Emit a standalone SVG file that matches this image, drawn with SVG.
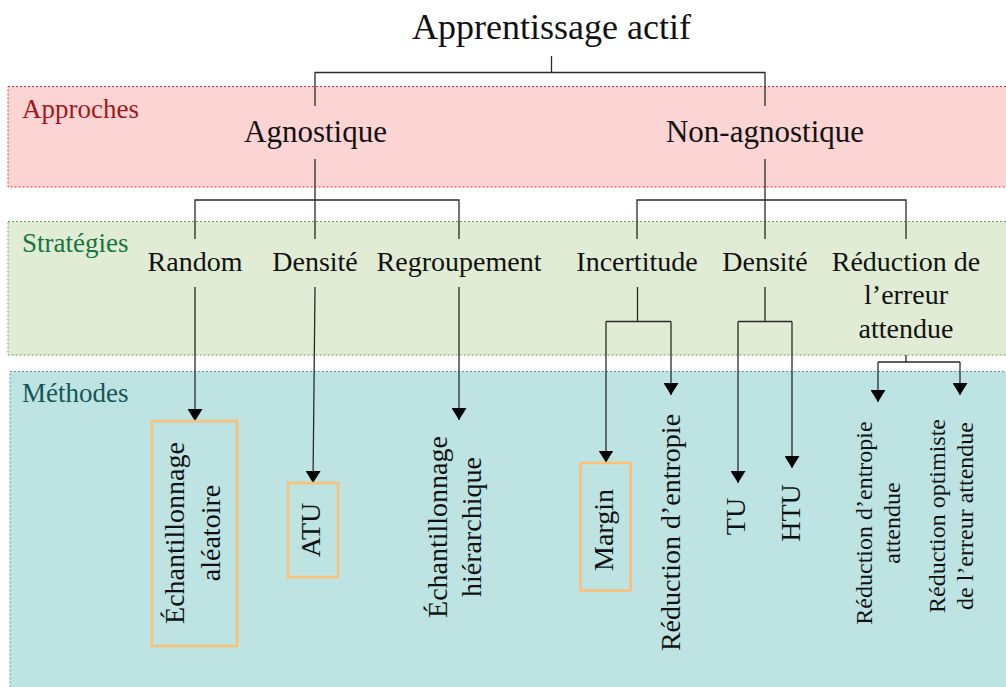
<svg xmlns="http://www.w3.org/2000/svg" width="1006" height="687" viewBox="0 0 1006 687" font-family="'Liberation Serif', 'Times New Roman', Times, 'DejaVu Serif', serif">
<style>
text{font-family:'Liberation Serif','Times New Roman',Times,'DejaVu Serif',serif;fill:#111}
.t{font-size:36px;text-anchor:middle}
.a{font-size:31px;text-anchor:middle}
.s{font-size:28px;text-anchor:middle}
.m{font-size:28px;text-anchor:middle}
.ms{font-size:24px;text-anchor:middle}
.lbl{font-size:27px}
.c{fill:none;stroke:#2a2a2a;stroke-width:1.3}
.ar{marker-end:url(#ah)}
.box{fill:none;stroke:#fdbf72;stroke-width:2.5}
</style>
<defs>
<marker id="ah" viewBox="0 0 12 15" refX="12" refY="7.5" markerWidth="12" markerHeight="15" markerUnits="userSpaceOnUse" orient="auto">
<path d="M0,0 L12,7.5 L0,15 z" fill="#000"/>
</marker>
</defs>
<rect width="1006" height="687" fill="#fff"/>
<g id="bands">
<g id="band-approches">
<rect x="8" y="86.5" width="1010" height="100.5" fill="#fbd4d3" stroke="#e0303e" stroke-width="1" stroke-dasharray="2 2"/>
<text class="lbl" x="22" y="118" fill="#a3161c" style="fill:#a3161c">Approches</text>
</g>
<g id="band-strategies">
<rect x="8" y="221.5" width="1010" height="133.5" fill="#e0edd4" stroke="#6f9a5c" stroke-width="1" stroke-dasharray="2 2"/>
<text class="lbl" x="22" y="251.5" style="fill:#16763f">Stratégies</text>
</g>
<g id="band-methodes">
<rect x="10" y="371.5" width="1010" height="330" fill="#bde3e3" stroke="#4e9ea0" stroke-width="1" stroke-dasharray="2 2"/>
<text class="lbl" x="22" y="401.5" style="fill:#155656">Méthodes</text>
</g>
</g>
<g id="connectors">
<path class="c" d="M551.5,56 V72.5 M315,106 V72.5 H765 V106"/>
<path class="c" d="M315,159 V200 M195,239 V200 H459 V239 M315,200 V239"/>
<path class="c" d="M765,159 V200 M637,239 V200 H906 V239 M765,200 V239"/>
<path class="c ar" d="M195,287 V421"/>
<path class="c ar" d="M315,287 L313,483"/>
<path class="c ar" d="M459,287 V420"/>
<path class="c" d="M637.5,287 V321.5 M606,321.5 H671"/>
<path class="c ar" d="M606,321.5 V462.5"/>
<path class="c ar" d="M671,321.5 V395"/>
<path class="c" d="M765,287 V321.5 M738,321.5 H792"/>
<path class="c ar" d="M738,321.5 V483"/>
<path class="c ar" d="M792,321.5 V468"/>
<path class="c" d="M906,355 V362 M878,362 H960"/>
<path class="c ar" d="M878,362 V402"/>
<path class="c ar" d="M960,362 V395"/>
</g>
<g id="n-root"><text class="t" x="551.5" y="39">Apprentissage actif</text></g>
<g id="n-agnostique"><text class="a" x="315.5" y="142">Agnostique</text></g>
<g id="n-nonagnostique"><text class="a" x="765" y="142">Non-agnostique</text></g>
<g id="n-random"><text class="s" x="195" y="271">Random</text></g>
<g id="n-densite1"><text class="s" x="315" y="271">Densité</text></g>
<g id="n-regroupement"><text class="s" x="459" y="271">Regroupement</text></g>
<g id="n-incertitude"><text class="s" x="637" y="271">Incertitude</text></g>
<g id="n-densite2"><text class="s" x="765" y="271">Densité</text></g>
<g id="n-reduction"><text class="s" x="906" y="271">Réduction de</text><text class="s" x="906" y="304">l’erreur</text><text class="s" x="906" y="338">attendue</text></g>
<g id="m-echal">
<rect class="box" x="152" y="421" width="85" height="225"/>
<g transform="translate(184,533) rotate(-90)"><text class="m" x="0" y="0">Échantillonnage</text><text class="m" x="0" y="36">aléatoire</text></g>
</g>
<g id="m-atu">
<rect class="box" x="288" y="483" width="50" height="94"/>
<g transform="translate(320,530) rotate(-90)"><text class="m" x="0" y="0">ATU</text></g>
</g>
<g id="m-echhier">
<g transform="translate(447,527) rotate(-90)"><text class="m" x="0" y="0">Échantillonnage</text><text class="m" x="0" y="34">hiérarchique</text></g>
</g>
<g id="m-margin">
<rect class="box" x="580.5" y="463" width="50" height="127.5"/>
<g transform="translate(613,530) rotate(-90)"><text class="m" x="0" y="0">Margin</text></g>
</g>
<g id="m-redent">
<g transform="translate(680,532.5) rotate(-90)"><text class="m" x="0" y="0">Réduction d’entropie</text></g>
</g>
<g id="m-tu">
<g transform="translate(745,516.5) rotate(-90)"><text class="m" x="0" y="0">TU</text></g>
</g>
<g id="m-htu">
<g transform="translate(800,513) rotate(-90)"><text class="m" x="0" y="0">HTU</text></g>
</g>
<g id="m-redentatt">
<g transform="translate(872,523) rotate(-90)"><text class="ms" x="0" y="0">Réduction d’entropie</text><text class="ms" x="0" y="28">attendue</text></g>
</g>
<g id="m-redopt">
<g transform="translate(945,516) rotate(-90)"><text class="ms" x="0" y="0">Réduction optimiste</text><text class="ms" x="0" y="28">de l’erreur attendue</text></g>
</g>
</svg>
